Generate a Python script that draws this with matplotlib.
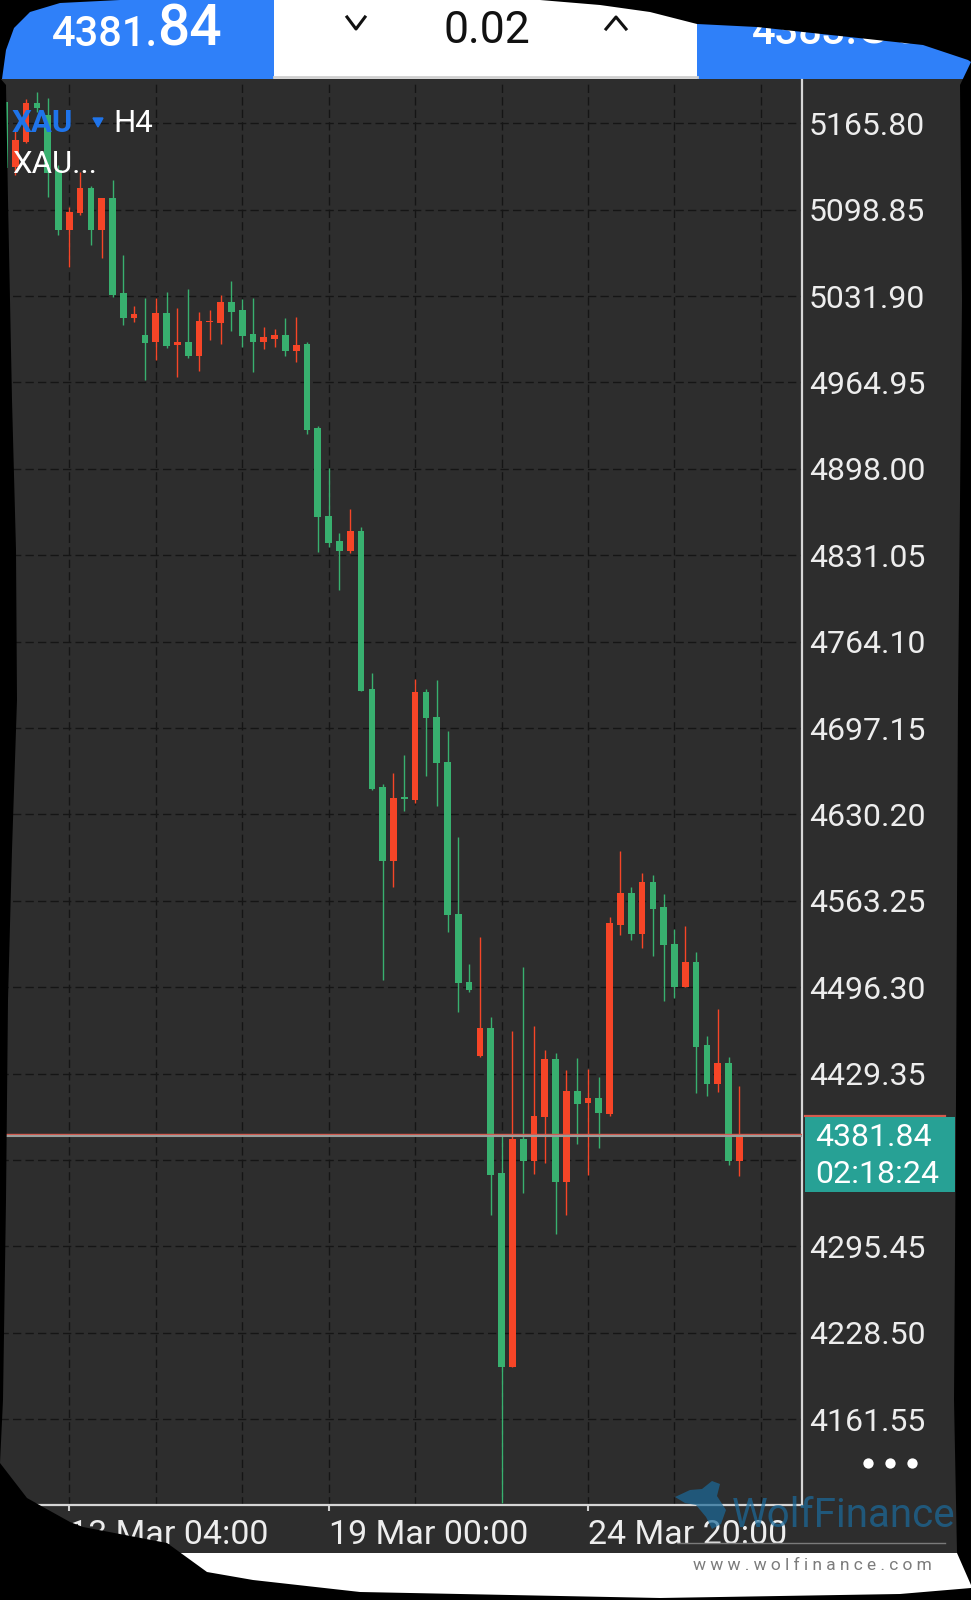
import numpy as np
import matplotlib
matplotlib.use("Agg")
import matplotlib.pyplot as plt
from matplotlib.patches import Rectangle, Polygon

plt.rcParams['font.family'] = ['Roboto', 'DejaVu Sans']

# XAU H4 candles (index 0 = 13 Mar 04:00)
first_bar = -6
opens = [5182.5, 5132.2, 5151.5, 5181.8, 5172.2, 5129.6,
         5083.1, 5096.0, 5115.4, 5083.1, 5107.7, 5034.1, 5014.7, 5001.8,
         4996.1, 5018.6, 4994.0, 4996.1, 4985.5, 5011.6, 5011.3, 5027.1,
         5021.1, 5002.3, 4996.1, 4998.7, 5001.8, 4989.6, 4994.8, 4929.9,
         4861.7, 4842.3, 4834.6, 4850.1, 4727.4, 4651.5, 4594.2, 4642.9,
         4641.4, 4725.3, 4705.9, 4670.9, 4553.3, 4500.6, 4443.0, 4464.5,
         4352.2, 4202.3, 4378.5, 4361.9, 4395.5, 4440.5, 4345.6, 4416.2,
         4406.4, 4410.3, 4398.1, 4544.6, 4569.6, 4537.6, 4578.1, 4558.3,
         4529.8, 4496.8, 4516.1, 4451.6, 4421.3, 4437.8, 4361.9]
highs = [5186.2, 5160.6, 5184.4, 5190.3, 5185.4, 5133.5,
         5101.2, 5128.3, 5117.2, 5107.7, 5121.9, 5063.7, 5024.2, 5030.2,
         5030.2, 5035.3, 5022.4, 5037.4, 5019.8, 5021.1, 5032.7, 5043.6,
         5029.4, 5030.2, 5008.2, 5006.2, 5015.2, 5015.9, 4996.3, 4931.2,
         4898.9, 4848.3, 4866.9, 4853.2, 4739.8, 4653.8, 4662.6, 4676.3,
         4735.2, 4727.4, 4734.4, 4695.1, 4613.0, 4514.1, 4535.5, 4473.0,
         4381.1, 4462.4, 4512.2, 4466.3, 4447.7, 4445.1, 4432.2, 4441.3,
         4432.7, 4426.5, 4550.5, 4602.1, 4574.2, 4585.1, 4583.3, 4568.6,
         4541.2, 4543.8, 4523.9, 4458.6, 4479.2, 4442.0, 4419.8]
lows = [5129.6, 5125.7, 5150.3, 5174.8, 5108.7, 5079.2,
        5054.7, 5095.0, 5071.5, 5061.2, 5031.4, 5009.5, 5012.1, 4966.9,
        4982.4, 4991.4, 4969.4, 4983.7, 4974.1, 4997.9, 4994.5, 5005.1,
        4992.2, 4972.8, 4990.9, 4992.7, 4985.5, 4981.0, 4925.0, 4833.8,
        4837.7, 4804.2, 4832.8, 4725.6, 4649.5, 4501.9, 4574.0, 4633.1,
        4639.1, 4660.2, 4636.8, 4539.4, 4476.9, 4492.9, 4442.5, 4319.8,
        4096.9, 4201.8, 4336.7, 4351.6, 4359.9, 4305.1, 4319.8, 4374.9,
        4350.8, 4371.5, 4396.5, 4536.8, 4532.9, 4527.0, 4520.5, 4485.9,
        4488.2, 4496.5, 4414.6, 4412.1, 4415.4, 4358.6, 4350.1]
closes = [5130.9, 5152.9, 5181.3, 5177.4, 5127.3, 5083.1,
          5097.3, 5115.4, 5083.1, 5107.7, 5032.7, 5014.7, 5017.8, 4995.3,
          5018.6, 4993.5, 4996.1, 4985.5, 5012.6, 5012.8, 5027.1, 5019.8,
          5001.2, 4996.1, 4999.9, 5001.8, 4989.6, 4994.0, 4928.1, 4860.7,
          4840.8, 4834.6, 4850.1, 4726.1, 4649.9, 4594.2, 4642.9, 4642.2,
          4725.3, 4704.7, 4669.9, 4552.1, 4499.4, 4494.2, 4464.5, 4350.8,
          4202.3, 4378.5, 4361.9, 4396.5, 4440.5, 4345.6, 4416.2, 4405.8,
          4410.3, 4398.6, 4545.9, 4569.6, 4537.6, 4578.1, 4556.9, 4529.1,
          4496.8, 4516.1, 4450.3, 4421.3, 4437.8, 4361.9, 4381.84]

price_ticks = [5165.80, 5098.85, 5031.90, 4964.95, 4898.00, 4831.05, 4764.10,
               4697.15, 4630.20, 4563.25, 4496.30, 4429.35, 4362.40, 4295.45,
               4228.50, 4161.55]
grid_bars = [0, 8, 16, 24, 32, 40, 48, 56, 64]
label_bars = [0, 24, 48]
time_labels = ['13 Mar 04:00', '19 Mar 00:00', '24 Mar 20:00']
last_price = 4381.84
bid_text = ('4381.', '84')
ask_text = ('4383.', '86')
volume = '0.02'
countdown = '02:18:24'

BG = '#2d2d2d'
UP = '#f64527'
DOWN = '#38b06f'
BLUE = '#2f80f9'
TEAL = '#27a195'
TXT = '#ededed'

W, H = 971, 1600
fig = plt.figure(figsize=(W / 100, H / 100), dpi=100, facecolor='black')


def px_axes(z):
    a = fig.add_axes([0, 0, 1, 1], zorder=z)
    a.set_xlim(0, W)
    a.set_ylim(H, 0)
    a.axis('off')
    return a


# background pieces: chart area, top trade bar, white footer
bg = px_axes(0)
bg.add_patch(Rectangle((0, 78), W, 1475, color=BG, lw=0))
bg.add_patch(Rectangle((0, 1553), W, 47, color='white', lw=0))
bg.add_patch(Rectangle((0, 0), 274, 79, color=BLUE, lw=0))
bg.add_patch(Rectangle((274, 0), 423, 79, color='white', lw=0))
bg.add_patch(Rectangle((697, 0), 274, 79, color=BLUE, lw=0))
bg.plot([274, 697], [77, 77], color='#cfcfcf', lw=2)

# candle chart
ax = fig.add_axes([0, 1 - 1505 / H, 802 / W, (1505 - 79.5) / H], zorder=1)
ax.set_facecolor(BG)
o, h, l, c = map(np.array, (opens, highs, lows, closes))
x = np.arange(first_bar, first_bar + len(o))
col = np.where(c >= o, UP, DOWN)
ax.vlines(x, l, h, colors=col, lw=1.0, zorder=3)
ax.bar(x, np.maximum(np.abs(c - o), 1.3), bottom=np.minimum(o, c), width=0.62,
       color=col, lw=0, zorder=4)

ax.axhline(last_price + 0.9, color='#d45a4d', lw=1.0, zorder=5)
ax.axhline(last_price - 0.5, color='#9a9e9c', lw=1.5, zorder=5)

ax.set_xlim(-6.41, 67.8)
ax.set_ylim(4095.1, 5199.7)

# grid on every 8th bar, dated ticks on every 24th
ax.xaxis.remove_overlapping_locs = False
ax.set_xticks(grid_bars, [''] * len(grid_bars))
ax.set_xticks(label_bars, time_labels, minor=True)
for t in ax.get_xticklabels(minor=True):
    t.set_ha('left')
ax.tick_params(axis='x', which='major', length=0)
ax.tick_params(axis='x', which='minor', length=4, width=1.5, color='#cfcfcf',
               pad=6, labelsize=24.5, labelcolor=TXT)

ax.set_yticks(price_ticks, ['' if p == 4362.40 else f'{p:.2f}' for p in price_ticks])
ax.yaxis.tick_right()
ax.tick_params(axis='y', length=0, pad=5, labelsize=23, labelcolor=TXT)

ax.grid(True, which='major', color='#151515', ls=(0, (6, 3)), lw=1.0)
ax.set_axisbelow(True)
for s in ('top', 'left'):
    ax.spines[s].set_visible(False)
for s in ('right', 'bottom'):
    ax.spines[s].set_color('#d6d6d6')
    ax.spines[s].set_linewidth(1.6)

# overlay: labels, price box, watermark, torn-edge masks
ov = px_axes(2)

ov.plot([805, 945], [1115.5, 1115.5], color='#d45a4d', lw=1.6, zorder=4)
ov.add_patch(Rectangle((805, 1117), 150, 75, color=TEAL, lw=0, zorder=4))
ov.text(815, 1146, f'{last_price:.2f}', fontsize=23, color='white', zorder=5)
ov.text(815, 1183, countdown, fontsize=23, color='white', zorder=5)

ov.text(12, 132, 'XAU', fontsize=22.5, fontweight='bold', color='#1f74ea', zorder=5)
ov.add_patch(Polygon([(93, 118), (103, 118), (98, 127)], color='#1f74ea', zorder=5))
ov.text(113, 132, 'H4', fontsize=22.5, color='white', zorder=5)
ov.text(12, 173, 'XAU...', fontsize=22.5, color='white', zorder=5)

ov.text(52, 46, bid_text[0], fontsize=30, fontweight='medium', color='white', zorder=5)
ov.text(157, 46, bid_text[1], fontsize=41, fontweight='medium', color='white', zorder=5)
ov.text(752, 44, ask_text[0], fontsize=30, fontweight='medium', color='white', zorder=5)
ov.text(857, 44, ask_text[1], fontsize=41, fontweight='medium', color='white', zorder=5)
ov.text(487, 43, volume, fontsize=32, color='#111111', ha='center', zorder=5)
ov.plot([347, 356, 365], [17, 29, 17], color='#111111', lw=2.2, zorder=5)
ov.plot([606, 616, 626], [29, 17, 29], color='#111111', lw=2.2, zorder=5)

ov.scatter([868, 890, 912], [1463] * 3, s=55, color='white', lw=0, zorder=5)

# WolfFinance watermark (sits over the last date label, as in the screenshot)
ov.add_patch(Polygon([(675, 1497), (690, 1490), (702, 1489), (712, 1481), (720, 1484),
                      (717, 1496), (726, 1510), (721, 1524), (712, 1529), (706, 1517),
                      (696, 1505), (685, 1503)], color='#1b6a9a', alpha=0.7, lw=0, zorder=6))
ov.text(732, 1527, 'WolfFinance', fontsize=29, color='#1b6a9a', alpha=0.72, zorder=6)
ov.plot([678, 945], [1543, 1543], color='#7a7a7a', lw=1.0, zorder=6)
ov.text(693, 1570, 'w w w . w o l f i n a n c e . c o m', fontsize=12.5,
        color='#7c7c7c', zorder=6)

masks = [
    [(0, 0), (120, 0), (60, 3), (30, 12), (14, 28), (6, 50), (2, 79), (0, 79)],
    [(540, 0), (600, 5), (650, 12), (697, 24), (757, 27), (840, 36), (923, 45),
     (968, 60), (971, 62), (971, 0)],
    [(0, 78), (6, 85), (8, 200), (12, 400), (16, 550), (17, 700), (12, 850),
     (8, 1000), (6, 1200), (3, 1400), (0, 1463)],
    [(971, 62), (960, 85), (962, 300), (958, 700), (956, 1100), (954, 1400),
     (957, 1553), (971, 1585)],
    [(0, 1463), (27, 1498), (43, 1507), (70, 1522), (83, 1527), (167, 1543),
     (207, 1572), (253, 1580), (360, 1592), (660, 1598), (900, 1594),
     (971, 1588), (971, 1600), (0, 1600)],
]
for m in masks:
    ov.add_patch(Polygon(m, color='black', lw=0, zorder=10))

fig.savefig('out.png', dpi=100, facecolor='black')
